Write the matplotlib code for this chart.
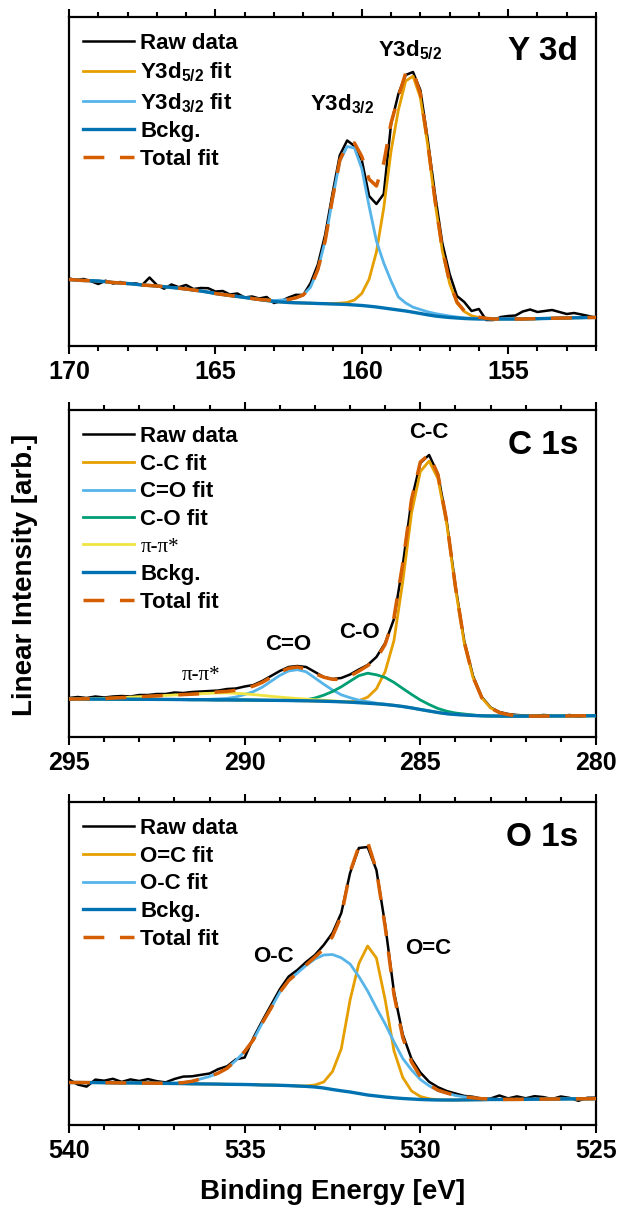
import numpy as np
import matplotlib
matplotlib.use("Agg")
import matplotlib.pyplot as plt
from matplotlib.ticker import MultipleLocator

plt.rcParams["font.family"] = "Liberation Sans"
plt.rcParams["font.weight"] = "bold"
plt.rcParams["mathtext.fontset"] = "custom"
plt.rcParams["mathtext.rm"] = "Liberation Sans:bold"
plt.rcParams["mathtext.default"] = "rm"

# Okabe-Ito colours used by the original
C_RAW = "black"
C_OR = "#E69F00"
C_SKY = "#56B4E9"
C_GRN = "#009E73"
C_YEL = "#F0E442"
C_BG = "#0072B2"
C_TOT = "#D55E00"

# ---------------- Y 3d (170 -> 152 eV, 0.25 eV steps) ----------------
e_y = np.arange(170, 151.99, -0.25)
bg_y = [66.5, 66, 65.5, 65.3, 65, 64.3, 63.5, 63, 62.5, 61.8, 61, 60.5, 60, 59.3, 58.5,
        57.8, 57, 56, 55, 53.8, 52.5, 51.5, 50.5, 49.5, 48.5, 47.5, 46.5, 45.5, 44.5, 44,
        43.5, 43.2, 43, 42.8, 42.5, 42.3, 42, 41.8, 41.5, 41, 40.5, 39.8, 39, 38, 37, 36,
        35, 33.8, 32.5, 31.2, 30, 29.2, 28.5, 28, 27.5, 27.2, 27, 27, 27, 27, 27, 27, 27,
        27.2, 27.3, 27.5, 27.7, 27.9, 28, 28.2, 28.3, 28.5, 28.6]
y32 = [0] * 27 + [0.5, 1, 2, 3, 5, 8, 16, 34, 63, 105, 143, 158, 157, 137, 100, 66, 45,
                  28, 13, 8, 5, 4, 3, 2.5, 2, 1.5, 1, 0.7, 0.5, 0.3, 0.2] + [0] * 15
y52 = [0] * 36 + [0.5, 1, 2, 5, 12, 27, 55, 100, 158, 200, 230, 236, 216, 170, 114, 66,
                  34, 15, 7, 3, 1.5, 0.5] + [0] * 15
raw_y = [67.5, 66, 67, 64.8, 62, 65.3, 62.5, 64, 62, 62.8, 61, 68.5, 61, 57.3, 61.5,
         58.8, 61, 57, 58, 57.8, 54.5, 55, 51.5, 52.5, 48.5, 49.5, 47.5, 49, 43, 45, 48.5,
         51.2, 51, 62.8, 81.5, 111.3, 152.5, 190.8, 205.5, 200, 186, 150, 142, 152, 222,
         252, 271, 274, 256, 207, 152, 103, 72, 50, 44, 35, 37, 26, 26, 29, 30, 30.5,
         34.5, 36.5, 34, 35, 36, 34, 32, 33, 31.5, 30, 28]

# ---------------- C 1s (295 -> 280 eV) ----------------
e_c = np.arange(295, 279.99, -0.25)
bg_c = [38, 38, 38, 38, 38, 37.9, 37.9, 37.8, 37.8, 37.7, 37.6, 37.6, 37.5, 37.4, 37.3,
        37.3, 37.2, 37.1, 37.1, 37, 37, 36.9, 36.8, 36.7, 36.6, 36.5, 36.3, 36.2, 36,
        35.8, 35.5, 35.2, 34.8, 34.3, 33.8, 33.2, 32.5, 31.6, 30.5, 29.1, 27.5, 26, 24.5,
        23.3, 22.5, 22, 21.5, 21.2, 21, 20.9, 20.8, 20.8, 20.8, 20.9, 20.9, 21, 21, 21.1,
        21.2, 21.2, 21.3]
pipi = [0, 0, 0.2, 0.4, 0.6, 1, 1.5, 2, 2.5, 3, 3.5, 4, 4.5, 5, 5.5, 6, 6.5, 7, 7, 6.7,
        6.2, 5.5, 4.8, 4, 3.3, 2.7, 2.2, 1.7, 1.3, 1, 0.7, 0.4, 0.2, 0.1] + [0] * 27
c_do = [0] * 16 + [0.5, 1, 1.5, 3, 5.5, 8.5, 13, 19, 25, 29.5, 31, 29, 23, 17, 11.5, 7,
                   4.5, 2.5, 1.5, 0.7, 0.3] + [0] * 24
c_so = [0] * 26 + [0.5, 1, 3, 6, 10, 15, 21, 27, 30, 29, 27, 23, 18, 13.5, 9.5, 6.5, 4,
                   2.5, 1.5, 1, 0.5] + [0] * 14
c_cc = [0] * 32 + [0.5, 2, 6, 15, 33, 65, 125, 195, 238, 250, 234, 190, 126, 72, 38, 18,
                   8, 3.5, 1.5, 0.5] + [0] * 9
raw_c = [39, 40, 39, 40.5, 39.5, 40.5, 41, 40.5, 42, 42, 43, 43, 44.5, 44, 45, 45.5, 46,
         46.5, 48, 48.5, 50.5, 52, 56, 61, 66, 70, 71, 70, 65, 60, 58, 59, 62.5, 67.5, 72,
         80, 94, 118, 172, 237, 274, 282, 263, 216, 151, 96, 61, 40, 29.5, 25, 23, 22,
         21.5, 21, 22, 21.5, 21, 22, 20.5, 21.5, 21.5]

# ---------------- O 1s (540 -> 525 eV) ----------------
e_o = np.arange(540, 524.99, -0.25)
bg_o = [42.5, 42.5, 42.4, 42.4, 42.3, 42.2, 42.1, 42.1, 42, 41.9, 41.8, 41.6, 41.5, 41.4,
        41.2, 41.1, 41, 40.9, 40.7, 40.6, 40.5, 40.3, 40, 39.9, 39.7, 39.4, 39, 38.6, 38,
        37, 35.5, 34.2, 33, 31.5, 30, 29, 28, 27.2, 26.5, 26, 25.5, 25.2, 25, 25, 25,
        25.1, 25.2, 25.3, 25.5, 25.5, 25.6, 25.6, 25.7, 25.8, 25.9, 26, 26, 26.1, 26.2,
        26.2, 26.3]
o_oc = [0] * 12 + [0.5, 1, 2.5, 5, 7.5, 11, 16, 24, 33, 45, 62, 77, 93, 105, 113, 121,
                   128, 133, 135, 133, 128, 117, 104, 88, 73, 56, 40, 29, 20, 14, 9.5, 7,
                   4.5, 3, 2, 1, 0.5] + [0] * 12
o_dc = [0] * 27 + [0.5, 2, 6, 18, 42, 92, 130, 149, 138, 97, 47, 21, 8, 3, 1, 0.3] + [0] * 18
raw_o = [45.5, 40.5, 38.4, 45.4, 44.3, 46.2, 43.1, 45.6, 44, 45.9, 43.8, 42.6, 46, 48.4,
         48.7, 50.1, 51.5, 55.9, 58.7, 65.6, 67.5, 87.3, 104, 119.9, 135.7, 148.4, 155,
         163, 170, 180, 192, 212, 252, 277, 278, 255, 200, 133, 90.5, 66, 52.5,
         43.2, 37.8, 34, 31.5, 29.1, 28.2, 26.3, 26.5, 29.5, 26.6, 28.6, 26.7, 28.8, 27.9,
         26, 28.5, 27.1, 24.2, 27.2, 27.3]

panels = [
    dict(e=e_y, bg=bg_y, raw=raw_y, xlim=(170, 152), top=17, bot=346, title="Y 3d",
         comps=[(y52, C_OR, "Y3d$_{5/2}$ fit"), (y32, C_SKY, "Y3d$_{3/2}$ fit")],
         notes=[(158.35, 296, "Y3d$_{5/2}$", False), (160.68, 242, "Y3d$_{3/2}$", False)]),
    dict(e=e_c, bg=bg_c, raw=raw_c, xlim=(295, 280), top=410, bot=737, title="C 1s",
         comps=[(c_cc, C_OR, "C-C fit"), (c_do, C_SKY, "C=O fit"), (c_so, C_GRN, "C-O fit"),
                (pipi, C_YEL, "π-π*")],
         notes=[(284.75, 304, "C-C", False), (288.77, 92, "C=O", False),
                (286.73, 105, "C-O", False), (291.24, 62, "π-π*", True)]),
    dict(e=e_o, bg=bg_o, raw=raw_o, xlim=(540, 525), top=802, bot=1125, title="O 1s",
         comps=[(o_dc, C_OR, "O=C fit"), (o_oc, C_SKY, "O-C fit")],
         notes=[(529.77, 177, "O=C", False), (534.18, 168, "O-C", False)]),
]

W, H = 617, 1210
fig = plt.figure(figsize=(W / 100, H / 100), dpi=100)
L, R = 69, 596

for p in panels:
    hpx = p["bot"] - p["top"]
    ax = fig.add_axes([L / W, 1 - p["bot"] / H, (R - L) / W, hpx / H])
    e = p["e"]
    bg = np.array(p["bg"], dtype=float)
    total = bg.copy()
    ax.plot(e, p["raw"], color=C_RAW, lw=1.8, label="Raw data", zorder=2)
    for vals, col, lab in p["comps"]:
        vals = np.array(vals, dtype=float)
        total += vals
        ax.plot(e, bg + vals, color=col, lw=2.0, label=lab, zorder=3)
    ax.plot(e, bg, color=C_BG, lw=2.4, label="Bckg.", zorder=4)
    ax.plot(e, total, color=C_TOT, lw=2.5, ls=(0, (6, 4.5)), label="Total fit", zorder=5)

    ax.set_xlim(*p["xlim"])
    ax.set_ylim(0, hpx)
    ax.set_yticks([])
    ax.xaxis.set_major_locator(MultipleLocator(5))
    ax.xaxis.set_minor_locator(MultipleLocator(1))
    ax.tick_params(axis="x", which="both", direction="out", top=True, bottom=True,
                   width=1.5, labelsize=18, pad=4)
    ax.tick_params(axis="x", which="major", length=6)
    ax.tick_params(axis="x", which="minor", length=3.5)
    for s in ax.spines.values():
        s.set_linewidth(1.6)

    leg = ax.legend(loc="upper left", bbox_to_anchor=(0.026, 1 - 16 / hpx), frameon=False,
                    fontsize=16, handlelength=2.3, handletextpad=0.3, labelspacing=0.3,
                    borderaxespad=0, borderpad=0)
    for t in leg.get_texts():
        if t.get_text() == "π-π*":
            t.set_fontfamily("Liberation Serif")
            t.set_fontweight("normal")
            t.set_fontsize(15)

    ax.text(0.966, 1 - 35 / hpx, p["title"], transform=ax.transAxes,
            ha="right", va="center", fontsize=24, fontweight="bold")
    for x, y, txt, serif in p["notes"]:
        if serif:
            ax.text(x, y, txt, ha="center", va="center", fontsize=15,
                    family="Liberation Serif", fontweight="normal")
        else:
            ax.text(x, y, txt, ha="center", va="center", fontsize=16, fontweight="bold")

fig.text(332.5 / W, 1 - 1192 / H, "Binding Energy [eV]", ha="center", va="center",
         fontsize=20, fontweight="bold")
fig.text(25 / W, 1 - 575 / H, "Linear Intensity [arb.]", ha="center", va="center",
         rotation=90, fontsize=20, fontweight="bold")

fig.savefig("out.png", dpi=100)
